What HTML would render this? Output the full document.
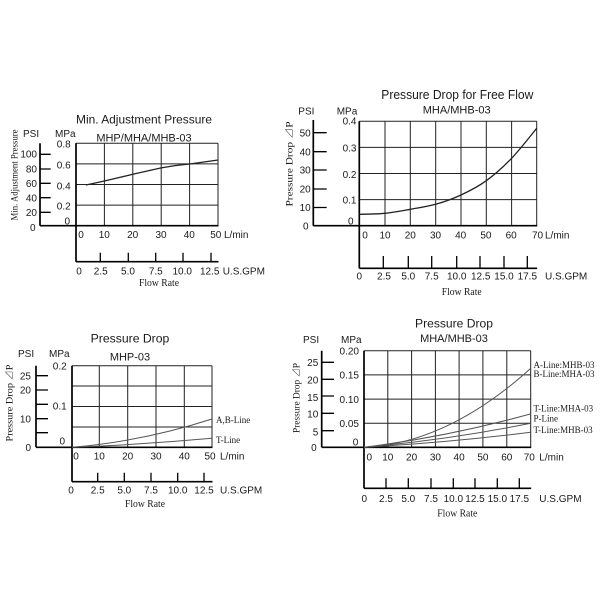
<!DOCTYPE html>
<html>
<head>
<meta charset="utf-8">
<style>
html,body{margin:0;padding:0;background:#fff;}
svg{display:block;}
.s{font-family:"Liberation Sans",Arial,"Noto Sans CJK JP",sans-serif;fill:#1a1a1a;}
.r{font-family:"Liberation Serif","Noto Serif CJK SC","Noto Sans CJK JP",serif;fill:#1a1a1a;}
.t{font-size:10px;}
.g{stroke:#222;stroke-width:1;fill:none;}
.a{stroke:#000;stroke-width:1.7;fill:none;}
.k{stroke:#000;stroke-width:1.3;fill:none;}
.c{stroke:#555;stroke-width:1;fill:none;}
.cd{stroke:#222;stroke-width:1.3;fill:none;}
</style>
</head>
<body>
<svg width="600" height="600" viewBox="0 0 600 600" xmlns="http://www.w3.org/2000/svg">
<rect width="600" height="600" fill="#fff"/>

<!-- ================= CHART 1 ================= -->
<g>
<text class="s" x="144" y="123.3" font-size="12" text-anchor="middle" textLength="136" lengthAdjust="spacingAndGlyphs">Min. Adjustment Pressure</text>
<text class="s" x="144" y="141.5" font-size="11" text-anchor="middle" fill="#333">MHP/MHA/MHB-03</text>
<text class="s t" x="23" y="137">PSI</text>
<text class="s t" x="55" y="137">MPa</text>
<g class="s t" text-anchor="end">
<text x="70.7" y="147.6">0.8</text>
<text x="70.7" y="168.6">0.6</text>
<text x="70.7" y="189.3">0.4</text>
<text x="70.7" y="209.6">0.2</text>
<text x="70" y="224.3">0</text>
<text x="37" y="157.6">100</text>
<text x="37" y="172.6">80</text>
<text x="37" y="186.9">60</text>
<text x="37" y="201.3">40</text>
<text x="37" y="215.9">20</text>
<text x="35.5" y="230.9">0</text>
</g>
<g class="s t" text-anchor="middle">
<text x="81" y="238">0</text>
<text x="104.3" y="238">10</text>
<text x="132.7" y="238">20</text>
<text x="161" y="238">30</text>
<text x="189.3" y="238">40</text>
<text x="215.8" y="238">50</text>
<text x="79" y="274.6">0</text>
<text x="100.7" y="274.6">2.5</text>
<text x="128" y="274.6">5.0</text>
<text x="155.8" y="274.6">7.5</text>
<text x="182.2" y="274.6">10.0</text>
<text x="209.7" y="274.6">12.5</text>
</g>
<text class="s t" x="224" y="238">L/min</text>
<text class="s t" x="222.7" y="274.6">U.S.GPM</text>
<text class="r" x="159" y="286" font-size="10" text-anchor="middle" textLength="40" lengthAdjust="spacingAndGlyphs">Flow Rate</text>
<text class="r" font-size="9.5" text-anchor="middle" transform="translate(17.5,175) rotate(-90)" textLength="91" lengthAdjust="spacingAndGlyphs">Min. Adjustment Pressure</text>

<path class="g" d="M104.4,143.3V225.7M132.8,143.3V225.7M161.2,143.3V225.7M189.6,143.3V225.7M218,143.3V225.7M76,143.3H218M76,163.9H218M76,184.5H218M76,205.1H218"/>
<path class="a" d="M40,143.3V225.7M40,225.7H218.5M76,143.3V261.7M76,261.7H218.5"/>
<path class="k" d="M40,154.3H50.7M40,169H50.7M40,183.3H50.7M40,197.7H50.7M40,212.3H50.7M100.3,252.7V261.7M128.3,252.7V261.7M155.7,252.7V261.7M183,252.7V261.7M211,252.7V261.7"/>
<path class="cd" d="M86,185 L104.4,181 L132.8,174.3 L161.2,167.9 L175,165.6 L189.6,164 L204,162 L218,160"/>
</g>

<!-- ================= CHART 2 ================= -->
<g>
<text class="s" x="457.3" y="98.8" font-size="13" text-anchor="middle" textLength="152" lengthAdjust="spacingAndGlyphs">Pressure Drop for Free Flow</text>
<text class="s" x="456.7" y="113.3" font-size="11" text-anchor="middle" fill="#333">MHA/MHB-03</text>
<text class="s t" x="298.3" y="114.3">PSI</text>
<text class="s t" x="336.7" y="114.3">MPa</text>
<g class="s t" text-anchor="end">
<text x="356.5" y="124.6">0.4</text>
<text x="356.5" y="151.3">0.3</text>
<text x="356.5" y="177.9">0.2</text>
<text x="356.5" y="203.6">0.1</text>
<text x="353.5" y="224.6">0</text>
<text x="310.7" y="136.3">50</text>
<text x="310.7" y="155.3">40</text>
<text x="310.7" y="173.6">30</text>
<text x="310.7" y="192.6">20</text>
<text x="310.7" y="210.9">10</text>
<text x="308.5" y="229.3">0</text>
</g>
<g class="s t" text-anchor="middle">
<text x="365" y="238.6">0</text>
<text x="385" y="238.6">10</text>
<text x="410.3" y="238.6">20</text>
<text x="435.5" y="238.6">30</text>
<text x="460.7" y="238.6">40</text>
<text x="485.9" y="238.6">50</text>
<text x="511.2" y="238.6">60</text>
<text x="537.5" y="238.6">70</text>
<text x="359.3" y="279.6">0</text>
<text x="384" y="279.6">2.5</text>
<text x="408.3" y="279.6">5.0</text>
<text x="431.7" y="279.6">7.5</text>
<text x="456.7" y="279.6">10.0</text>
<text x="480.7" y="279.6">12.5</text>
<text x="504" y="279.6">15.0</text>
<text x="527.3" y="279.6">17.5</text>
</g>
<text class="s t" x="545" y="238.6">L/min</text>
<text class="s t" x="545" y="279.6">U.S.GPM</text>
<text class="r" x="461.7" y="295" font-size="10" text-anchor="middle" textLength="40" lengthAdjust="spacingAndGlyphs">Flow Rate</text>
<text class="r" font-size="9.5" text-anchor="middle" transform="translate(292.5,164) rotate(-90)" textLength="85" lengthAdjust="spacingAndGlyphs">Pressure Drop ⊿P</text>

<path class="g" d="M385,121.3V225.7M410.3,121.3V225.7M435.7,121.3V225.7M461,121.3V225.7M486.3,121.3V225.7M511.6,121.3V225.7M536.7,121.3V225.7M359.3,121.3H536.7M359.3,147.4H536.7M359.3,173.5H536.7M359.3,199.6H536.7"/>
<path class="a" d="M313.3,120V225.7M313.3,225.7H537.2M359.3,121.3V268.3M359.3,268.3H537.2"/>
<path class="k" d="M313.3,132.7H326.7M313.3,151.7H326.7M313.3,170H326.7M313.3,189H326.7M313.3,207.5H326.7M383.3,256V268.3M408.3,256V268.3M431.7,256V268.3M456.7,256V268.3M480,256V268.3M504,256V268.3M527.3,256V268.3"/>
<path class="cd" d="M359.3,214.3 C363.6,214.13 376.5,214.13 385,213.3 C393.5,212.47 401.85,210.8 410.3,209.3 C418.75,207.8 427.25,206.68 435.7,204.3 C444.15,201.92 452.57,198.93 461,195 C469.43,191.07 477.87,186.82 486.3,180.7 C494.73,174.58 503.2,167.03 511.6,158.3 C520,149.57 532.5,133.3 536.7,128.3"/>
</g>

<!-- ================= CHART 3 ================= -->
<g>
<text class="s" x="130" y="342.6" font-size="12" text-anchor="middle" textLength="78.7" lengthAdjust="spacingAndGlyphs">Pressure Drop</text>
<text class="s" x="130" y="360.6" font-size="11" text-anchor="middle" fill="#333">MHP-03</text>
<text class="s t" x="18" y="356.9">PSI</text>
<text class="s t" x="49" y="356.9">MPa</text>
<g class="s t" text-anchor="end">
<text x="66.7" y="369.3">0.2</text>
<text x="66.7" y="409.6">0.1</text>
<text x="65" y="444.6">0</text>
<text x="31" y="379.3">25</text>
<text x="31" y="393.6">20</text>
<text x="31" y="422.3">10</text>
<text x="31" y="450.9">0</text>
</g>
<g class="s t" text-anchor="middle">
<text x="76" y="459.6">0</text>
<text x="99.3" y="459.6">10</text>
<text x="127.7" y="459.6">20</text>
<text x="156" y="459.6">30</text>
<text x="184.3" y="459.6">40</text>
<text x="210" y="459.6">50</text>
<text x="71" y="493.6">0</text>
<text x="97.7" y="493.6">2.5</text>
<text x="124.3" y="493.6">5.0</text>
<text x="151" y="493.6">7.5</text>
<text x="177.7" y="493.6">10.0</text>
<text x="204" y="493.6">12.5</text>
</g>
<text class="s t" x="220" y="459.6">L/min</text>
<text class="s t" x="220" y="493.6">U.S.GPM</text>
<text class="r" x="145" y="506.8" font-size="10" text-anchor="middle" textLength="40" lengthAdjust="spacingAndGlyphs">Flow Rate</text>
<text class="r" font-size="9.5" text-anchor="middle" transform="translate(12.5,403) rotate(-90)" textLength="77" lengthAdjust="spacingAndGlyphs">Pressure Drop ⊿P</text>

<path class="g" d="M99.3,365.7V447.3M127.7,365.7V447.3M156,365.7V447.3M184.3,365.7V447.3M212,365.7V447.3M72,365.7H212M72,386H212M72,406.5H212M72,427H212"/>
<path class="a" d="M36,365.7V447.3M36,447.3H212.5M72,365.7V481.7M72,481.7H212.5"/>
<path class="k" d="M36,375.7H48M36,390H48M36,404.3H48M36,418.7H48M36,432.7H48M97.7,472.7V481.7M124.3,472.7V481.7M151,472.7V481.7M177.7,472.7V481.7M204,472.7V481.7"/>
<path class="c" d="M72,447.3 Q142,441.5 212,419"/>
<path class="c" d="M72,447.3 Q142,444.6 212,438.3"/>
<text class="r" x="216" y="423" font-size="9">A,B-Line</text>
<text class="r" x="216" y="443" font-size="9">T-Line</text>
</g>

<!-- ================= CHART 4 ================= -->
<g>
<text class="s" x="454" y="327.6" font-size="12" text-anchor="middle" textLength="78" lengthAdjust="spacingAndGlyphs">Pressure Drop</text>
<text class="s" x="454" y="342.1" font-size="11" text-anchor="middle" fill="#333">MHA/MHB-03</text>
<text class="s t" x="303" y="343">PSI</text>
<text class="s t" x="341" y="343">MPa</text>
<g class="s t" text-anchor="end">
<text x="359" y="354.3">0.20</text>
<text x="359" y="378.6">0.15</text>
<text x="359" y="402.9">0.10</text>
<text x="359" y="426.9">0.05</text>
<text x="358.3" y="445.3">0</text>
<text x="318.3" y="365.9">25</text>
<text x="318.3" y="383.6">20</text>
<text x="318.3" y="400.9">15</text>
<text x="318.3" y="417.6">10</text>
<text x="318.3" y="435.3">5</text>
<text x="316.7" y="450.9">0</text>
</g>
<g class="s t" text-anchor="middle">
<text x="369.3" y="460.3">0</text>
<text x="387.8" y="460.3">10</text>
<text x="411.6" y="460.3">20</text>
<text x="435.4" y="460.3">30</text>
<text x="459.1" y="460.3">40</text>
<text x="482.9" y="460.3">50</text>
<text x="506.8" y="460.3">60</text>
<text x="529.3" y="460.3">70</text>
<text x="364.3" y="501.9">0</text>
<text x="386" y="501.9">2.5</text>
<text x="408.3" y="501.9">5.0</text>
<text x="431" y="501.9">7.5</text>
<text x="453.3" y="501.9">10.0</text>
<text x="475" y="501.9">12.5</text>
<text x="497.3" y="501.9">15.0</text>
<text x="519.3" y="501.9">17.5</text>
</g>
<text class="s t" x="539.3" y="460.3">L/min</text>
<text class="s t" x="539.3" y="501.9">U.S.GPM</text>
<text class="r" x="457.3" y="516.7" font-size="10" text-anchor="middle" textLength="40" lengthAdjust="spacingAndGlyphs">Flow Rate</text>
<text class="r" font-size="9.5" text-anchor="middle" transform="translate(299.5,398) rotate(-90)" textLength="70" lengthAdjust="spacingAndGlyphs">Pressure Drop ⊿P</text>

<path class="g" d="M387.8,350.7V447.3M411.6,350.7V447.3M435.4,350.7V447.3M459.1,350.7V447.3M482.9,350.7V447.3M506.8,350.7V447.3M530.7,350.7V447.3M364,350.7H530.7M364,374.9H530.7M364,399.1H530.7M364,423.2H530.7"/>
<path class="a" d="M321.7,350.7V447.3M321.7,447.3H531.2M364,350.7V488.3M364,488.3H531.2"/>
<path class="k" d="M321.7,362.3H334M321.7,379.3H334M321.7,396H334M321.7,413.3H334M321.7,430.7H334M386,478.3V488.3M408.3,478.3V488.3M431,478.3V488.3M453.3,478.3V488.3M475,478.3V488.3M497.3,478.3V488.3M519.3,478.3V488.3"/>
<path class="c" d="M364,447.3 Q447.3,443.6 530.7,368.4"/>
<path class="c" d="M364,447.3 Q447.3,436.9 530.7,413.9"/>
<path class="c" d="M364,447.3 Q447.3,439.9 530.7,423.3"/>
<path class="c" d="M364,447.3 Q447.3,442.6 530.7,432.3"/>
<g class="r" font-size="9">
<text x="533.5" y="368">A-Line:MHB-03</text>
<text x="533.5" y="377">B-Line:MHA-03</text>
<text x="533.5" y="411.3">T-Line:MHA-03</text>
<text x="533.5" y="421.3">P-Line</text>
<text x="533.5" y="433">T-Line:MHB-03</text>
</g>
</g>
</svg>
</body>
</html>
